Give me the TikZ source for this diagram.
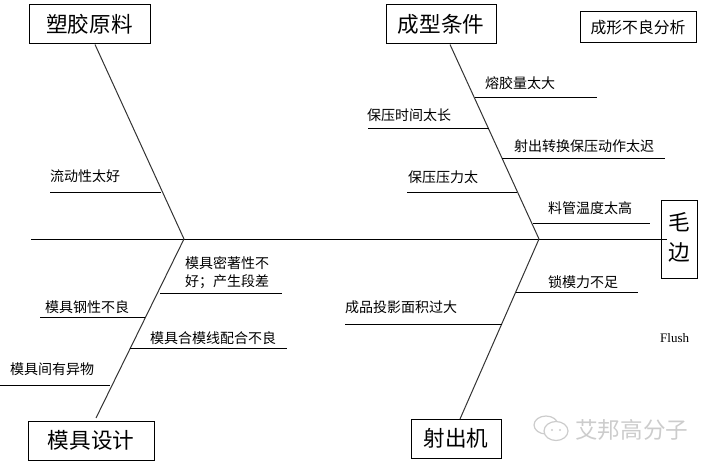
\documentclass[tikz,border=0pt]{standalone}
\usepackage{fontspec}
\newfontfamily\cjk{Noto Sans CJK SC}[Scale=1]
\setmainfont{Liberation Serif}
\newcommand{\lowertext}[1]{\raisebox{-2pt}{#1}}
\tikzset{
  x=1pt,y=-1pt,
  box/.style={draw=black,line width=1pt,fill=white,inner sep=0pt,minimum width=#1},
  headtext/.style={font=\cjk\fontsize{21.6}{21}\selectfont,text=black},
  small/.style={font=\cjk\fontsize{14}{18}\selectfont,text=black,inner sep=0pt,align=left},
  midtext/.style={font=\cjk\fontsize{15.8}{18}\selectfont,text=black},
  rib/.style={line width=1pt,black},
  bone/.style={line width=1pt,black!80},
  wmtext/.style={font=\cjk\fontsize{22.6}{22}\selectfont,text=black!20},
}
\begin{document}
\begin{tikzpicture}
\useasboundingbox (0,0) rectangle (708,465);
% spine
\coordinate (sL) at (31,239);
\coordinate (sR) at (667,239);
\coordinate (jL) at (184,239);
\coordinate (jR) at (539,239);
% head boxes
\node[box=121pt,minimum height=39pt,headtext] (h1) at (89.5,24.5) {\lowertext{塑胶原料}};
\node[box=110pt,minimum height=39pt,headtext] (h2) at (441,24.5) {\lowertext{成型条件}};
\node[box=126pt,minimum height=39pt,headtext] (h3) at (91,440.5) {\lowertext{模具设计}};
\node[box=90pt,minimum height=39pt,headtext] (h4) at (456,438.5) {\lowertext{射出机}};
\node[box=116pt,minimum height=31pt,midtext] (title) at (638,27.5) {\lowertext{成形不良分析}};
\node[box=36pt,minimum height=78pt] (effect) at (679,239) {};
\node[headtext,inner sep=0pt] (e1) at (679,222.5) {毛};
\node[headtext,inner sep=0pt] (e2) at (679,252) {边};
\draw[rib] (sL) -- (sR);
% bones
\coordinate (b1) at (95,44.5);
\coordinate (b2) at (450,44.5);
\coordinate (b3) at (96,418);
\coordinate (b4) at (460,419);
\draw[bone] (b1) -- (jL);
\draw[bone] (b2) -- (jR);
\draw[bone] (b3) -- (jL);
\draw[bone] (b4) -- (jR);
% ribs
\foreach \n/\xa/\xb/\yy in {
  a/50/161/192, b/475/597/98, c/368/489/129, d/502/665/158,
  e/407/517/192, f/533/650/223, g/516/638/292, h/345/502/324,
  i/160/282/293, j/40/145/317, k/130/287/348, l/0/110/385}{
  \coordinate (\n1) at (\xa,\yy);
  \coordinate (\n2) at (\xb,\yy);
  \draw[rib] (\n1) -- (\n2);
}
% labels
\node[small,anchor=west] (ta) at (50,176.5) {流动性太好};
\node[small,anchor=west] (tb) at (485,83) {熔胶量太大};
\node[small,anchor=west] (tc) at (367,115) {保压时间太长};
\node[small,anchor=west] (td) at (514,146) {射出转换保压动作太迟};
\node[small,anchor=west] (te) at (408,177) {保压压力太};
\node[small,anchor=west] (tf) at (548,208) {料管温度太高};
\node[small,anchor=west] (tg) at (548,282) {锁模力不足};
\node[small,anchor=west] (th) at (345,307) {成品投影面积过大};
\node[small,anchor=west] (ti) at (185,273) {模具密著性不\\好；产生段差};
\node[small,anchor=west] (tj) at (45,307) {模具钢性不良};
\node[small,anchor=west] (tk) at (150,338) {模具合模线配合不良};
\node[small,anchor=west] (tl) at (10,369) {模具间有异物};
\node[anchor=west,inner sep=0pt,font=\fontsize{13}{13}\selectfont] (flush) at (660,338.5) {Flush};
% watermark
\node[wmtext,anchor=west,inner sep=0pt] (wm) at (575,429.5) {艾邦高分子};
\draw[black!20,line width=1.2pt,fill=white] (546,425) ellipse (12 and 9);
\draw[black!20,line width=1.2pt,fill=white] (556,431) ellipse (12 and 9.5);
\fill[black!20] (552,430) circle (1.1) (560,430) circle (1.1);
\end{tikzpicture}
\end{document}
